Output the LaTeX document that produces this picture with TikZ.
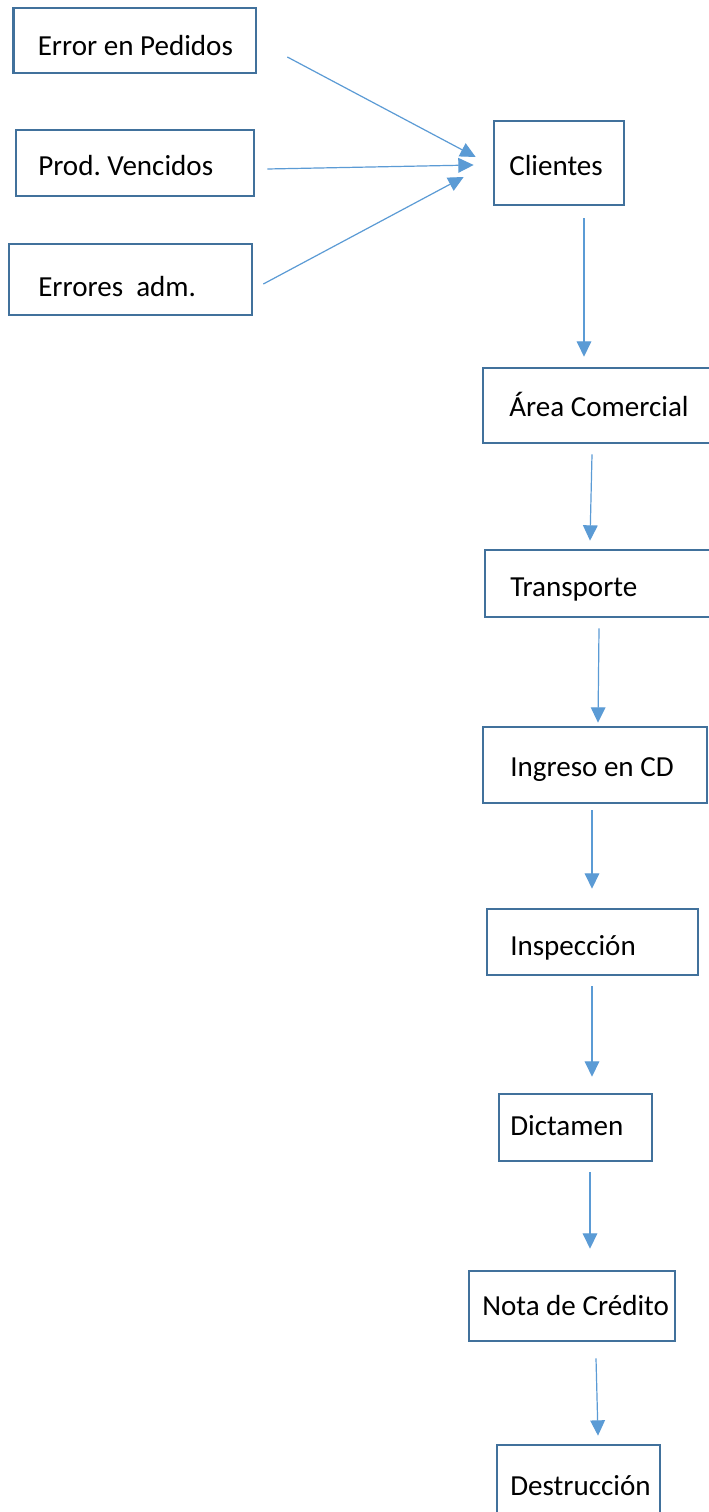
\documentclass[tikz,border=0pt]{standalone}
\usepackage{fontspec}
\setmainfont{Carlito}
\usetikzlibrary{arrows.meta,fit,calc}
\definecolor{boxline}{RGB}{65,113,156}
\definecolor{flow}{RGB}{91,155,213}
\frenchspacing
\begin{document}
\begin{tikzpicture}[x=0.75pt,y=-0.75pt,
  box/.style={draw=boxline, line width=2pt, inner sep=0pt, rectangle},
  lbl/.style={anchor=base west, inner sep=0pt, font=\fontsize{21.8pt}{26pt}\selectfont},
  arr/.style={draw=flow, line width=0.9pt, -{Triangle[length=11.5pt,width=11pt]}}]
\useasboundingbox (0,0) rectangle (708,1512);
\fill[white] (0,0) rectangle (708,1512);

% causes
\node[box, fit={(13.5,8) (256,73)}] (pedidos) {};
\node[lbl] (tpedidos) at (37.5,56) {Error en Pedidos};
\node[box, fit={(16,130) (254,196)}] (vencidos) {};
\node[lbl] (tvencidos) at (38,176) {Prod. Vencidos};
\node[box, fit={(9,244) (252,315)}] (errores) {};
\node[lbl] (terrores) at (38,296) {Errores\ \ adm.};

% process chain
\node[box, fit={(494,121) (624,205)}] (clientes) {};
\node[lbl] (tclientes) at (509,176) {Clientes};
\node[box, fit={(483,368) (712,443)}] (area) {};
\node[lbl] (tarea) at (509,416) {Área Comercial};
\node[box, fit={(485,550) (712,617)}] (transporte) {};
\node[lbl] (ttransporte) at (510,596) {Transporte};
\node[box, fit={(483,727) (707,803)}] (ingreso) {};
\node[lbl] (tingreso) at (510,776) {Ingreso en CD};
\node[box, fit={(487,909) (698,975)}] (inspeccion) {};
\node[lbl] (tinspeccion) at (510,955) {Inspección};
\node[box, fit={(499,1094) (652,1161)}] (dictamen) {};
\node[lbl] (tdictamen) at (510,1135) {Dictamen};
\node[box, fit={(469,1271) (675,1341)}] (nota) {};
\node[lbl] (tnota) at (482,1315) {Nota de Crédito};
\node[box, fit={(497,1445) (660,1530)}] (destruccion) {};
\node[lbl] (tdestruccion) at (510,1495) {Destrucción};

% connectors
\draw[arr] ($(pedidos.east)+(30,16.5)$) -- ($(clientes.west)+(-17,-6)$);
\draw[arr] ($(vencidos.east)+(12,6)$) -- ($(clientes.west)+(-19,2)$);
\draw[arr] ($(errores.east)+(10,4.5)$) -- ($(clientes.west)+(-29,14)$);
\draw[arr] ($(clientes.south)+(25,12)$) -- ($(area.north)+(-13.5,-10)$);
\draw[arr] ($(area.south)+(-5.5,10)$) -- ($(transporte.north)+(-8.5,-8)$);
\draw[arr] ($(transporte.south)+(0.5,10)$) -- ($(ingreso.north)+(3,-3)$);
\draw[arr] ($(ingreso.south)+(-3,6)$) -- ($(inspeccion.north)+(-0.5,-19)$);
\draw[arr] ($(inspeccion.south)+(-0.5,10)$) -- ($(dictamen.north)+(16.5,-16)$);
\draw[arr] ($(dictamen.south)+(14.5,10)$) -- ($(nota.north)+(18,-21)$);
\draw[arr] ($(nota.south)+(24,16)$) -- ($(destruccion.north)+(19.5,-8)$);
\end{tikzpicture}
\end{document}
